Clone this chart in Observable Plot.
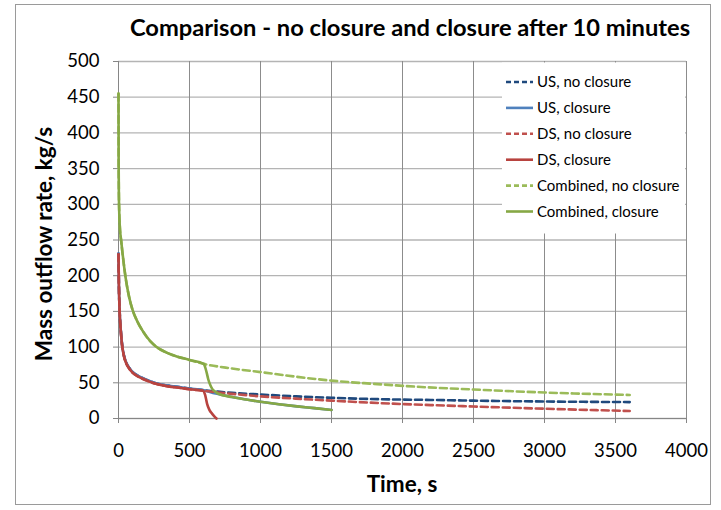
<!DOCTYPE html>
<html>
<head>
<meta charset="utf-8">
<script src="https://cdn.jsdelivr.net/npm/d3@7"></script>
<script src="https://cdn.jsdelivr.net/npm/@observablehq/plot@0.6"></script>
<style>
  html, body { margin: 0; padding: 0; background: #fff; }
  svg { display: block; }
</style>
</head>
<body>
<div id="chart"></div>
<script>
// ---- Data ----
const title = "Comparison - no closure and closure after 10 minutes";
const xLabel = "Time, s";
const yLabel = "Mass outflow rate, kg/s";
const xTicks = [0, 500, 1000, 1500, 2000, 2500, 3000, 3500, 4000];
const yTicks = [0, 50, 100, 150, 200, 250, 300, 350, 400, 450, 500];

const seriesNames = ["US, no closure", "US, closure", "DS, no closure", "DS, closure", "Combined, no closure", "Combined, closure"];
const seriesColors = ["#1F497D", "#4F81BD", "#C0504D", "#B8433F", "#9BBB59", "#86A845"];
const seriesDashed = [true, false, true, false, true, false];

// US, no closure
const tUsNo = [0, 3, 8, 16, 25, 40, 55, 75, 100, 146, 200, 263, 350, 427, 500, 596, 700, 800, 1000, 1250, 1500, 1850, 2200, 2500, 3000, 3600];
const vUsNo = [231, 186, 151, 124, 104, 87, 78, 71, 65, 59, 54, 49.5, 46, 44, 42, 39.8, 37.6, 36, 33.6, 31, 29, 27, 26, 25, 23.8, 23];
// US, closure
const tUsCl = [0, 3, 8, 16, 25, 40, 55, 75, 100, 146, 200, 263, 350, 427, 500, 596, 620, 643, 683, 700, 800, 900, 1000, 1130, 1258, 1380, 1500];
const vUsCl = [231, 186, 151, 124, 104, 87, 78, 71, 65, 59, 54, 49.5, 46, 44, 42, 39.8, 38.5, 37, 35, 34.5, 30, 26.5, 23.5, 20, 17, 14.5, 12];
// DS, no closure
const tDsNo = [0, 3, 8, 16, 25, 40, 55, 75, 100, 146, 200, 263, 350, 427, 500, 596, 700, 800, 1000, 1250, 1500, 1850, 2200, 2500, 3000, 3600];
const vDsNo = [230, 185, 150, 123, 103, 86, 77, 70, 64, 58, 53, 48.5, 45, 43, 41, 39, 36.5, 34.5, 31, 27.8, 25, 21.5, 18.8, 16.8, 13.7, 10.5];
// DS, closure
const tDsCl = [0, 3, 8, 16, 25, 40, 55, 75, 100, 146, 200, 263, 350, 427, 500, 596, 610, 624, 640, 660, 675, 690];
const vDsCl = [230, 185, 150, 123, 103, 86, 77, 70, 64, 58, 53, 48.5, 45, 43, 41, 39, 33, 20.5, 12, 6.5, 3, 0];
// Combined, no closure
const tCoNo = [0, 1, 3, 5, 9, 20, 28, 40, 51, 75, 99, 135, 169, 225, 263, 343, 380, 500, 600, 800, 1000, 1250, 1500, 1800, 2100, 2500, 3000, 3600];
const vCoNo = [455, 360, 310, 290, 270, 247, 232, 212, 196, 170, 152, 135, 123, 108, 101, 92, 89, 82, 76.5, 70, 65, 58.5, 53, 48.5, 44.5, 40.6, 36.4, 33];
// Combined, closure
const tCoCl = [0, 1, 3, 5, 9, 20, 28, 40, 51, 75, 99, 135, 169, 225, 263, 343, 380, 500, 600, 610, 620, 632, 643, 660, 683, 700, 800, 900, 1000, 1130, 1258, 1380, 1500];
const vCoCl = [455, 360, 310, 290, 270, 247, 232, 212, 196, 170, 152, 135, 123, 108, 101, 92, 89, 82, 76.5, 72, 65, 55, 48.5, 41.5, 37.5, 35, 30, 26.5, 23.5, 20, 17, 14.5, 12];

const seriesT = [tUsNo, tUsCl, tDsNo, tDsCl, tCoNo, tCoCl];
const seriesV = [vUsNo, vUsCl, vDsNo, vDsCl, vCoNo, vCoCl];

// ---- Build table ----
const rows = [];
seriesNames.forEach((name, i) => {
  seriesT[i].forEach((t, j) => rows.push({series: name, t, v: seriesV[i][j]}));
});

const FONT = "Lato, 'Open Sans', 'Liberation Sans', sans-serif";

const lineMarks = seriesNames.map((name, i) =>
  Plot.line(rows.filter(d => d.series === name), {
    x: "t", y: "v",
    stroke: seriesColors[i],
    strokeWidth: 2.6,
    strokeDasharray: seriesDashed[i] ? "7,4" : null,
    curve: "monotone-x"
  })
);

const svg = Plot.plot({
  width: 721,
  height: 510,
  marginLeft: 118,
  marginRight: 35,
  marginTop: 61,
  marginBottom: 92,
  style: {fontFamily: FONT, fontSize: "18.5px", background: "#fff", color: "#000", overflow: "visible"},
  x: {domain: [0, 4000], label: null},
  y: {domain: [0, 500], label: null},
  marks: [
    Plot.gridY(yTicks, {stroke: "#b4b4b4", strokeOpacity: 1, strokeWidth: 1.3}),
    Plot.gridX(xTicks, {stroke: "#8c8c8c", strokeOpacity: 1, strokeWidth: 1}),
    Plot.axisX(xTicks, {tickSize: 5, tickPadding: 20, stroke: "#868686", fill: "#000", fontSize: 18.5, label: null, tickFormat: d => String(d)}),
    Plot.axisY(yTicks, {tickSize: 5, tickPadding: 14, stroke: "#868686", fill: "#000", fontSize: 18.5, label: null, tickFormat: d => String(d)}),
    Plot.ruleY([0], {stroke: "#868686"}),
    Plot.ruleX([0], {stroke: "#868686"}),
    ...lineMarks
  ]
});

const root = d3.select(svg);

// Legend (overlaying plot area, white background)
const lg = root.append("g").attr("text-anchor", "start");
lg.append("rect").attr("x", 502).attr("y", 62.5).attr("width", 183).attr("height", 171).attr("fill", "#fff");
seriesNames.forEach((name, i) => {
  const y = 82 + i * 25.9;
  lg.append("line")
    .attr("x1", 506).attr("x2", 533).attr("y1", y).attr("y2", y)
    .attr("stroke", seriesColors[i]).attr("stroke-width", 2.6)
    .attr("stroke-dasharray", seriesDashed[i] ? "5,3" : null);
  lg.append("text")
    .attr("x", 537).attr("y", y).attr("dy", "0.35em")
    .attr("text-anchor", "start")
    .attr("font-family", FONT).attr("font-size", 15).attr("fill", "#000")
    .text(name);
});

// Title and axis labels
root.append("text").attr("x", 410).attr("y", 36).attr("text-anchor", "middle")
  .attr("font-family", FONT).attr("font-weight", "bold").attr("font-size", 23.7).attr("fill", "#000")
  .text(title);
root.append("text").attr("x", 402).attr("y", 492).attr("text-anchor", "middle")
  .attr("font-family", FONT).attr("font-weight", "bold").attr("font-size", 22.5).attr("fill", "#000")
  .text(xLabel);
root.append("text").attr("transform", "translate(52,244) rotate(-90)").attr("text-anchor", "middle")
  .attr("font-family", FONT).attr("font-weight", "bold").attr("font-size", 22.5).attr("fill", "#000")
  .text(yLabel);

// Chart-area border
root.append("rect").attr("x", 15.5).attr("y", 4.5).attr("width", 695).attr("height", 500)
  .attr("fill", "none").attr("stroke", "#9a9a9a").attr("stroke-width", 1);

document.getElementById("chart").appendChild(svg);
</script>
</body>
</html>
